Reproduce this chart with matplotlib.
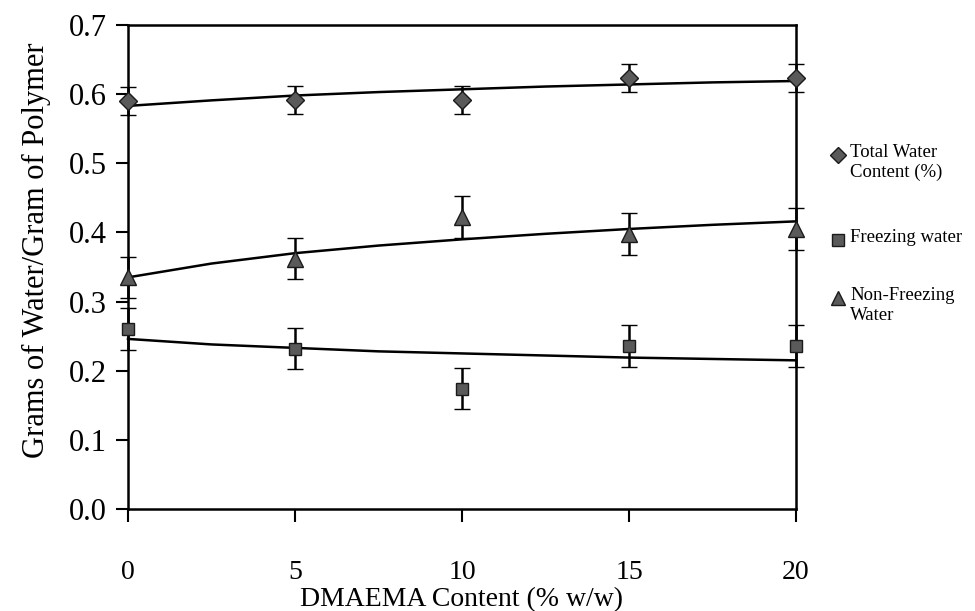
import matplotlib
matplotlib.use("Agg")
import matplotlib.pyplot as plt
from matplotlib.lines import Line2D

plt.rcParams['font.family'] = ['Liberation Serif', 'DejaVu Serif']

# ---- data ----
dmaema = [0, 5, 10, 15, 20]
total_water = [0.590, 0.592, 0.592, 0.623, 0.623]
total_err = [0.02, 0.02, 0.02, 0.02, 0.02]
nonfreezing = [0.335, 0.362, 0.422, 0.398, 0.405]
nonfreezing_err = [0.03, 0.03, 0.03, 0.03, 0.03]
freezing = [0.260, 0.232, 0.174, 0.236, 0.236]
freezing_err = [0.03, 0.03, 0.03, 0.03, 0.03]

# trend lines
trend_x = [0, 2.5, 5, 7.5, 10, 12.5, 15, 17.5, 20]
trend_total = [0.583, 0.591, 0.598, 0.603, 0.607, 0.611, 0.614, 0.617, 0.619]
trend_nonfreezing = [0.335, 0.355, 0.370, 0.381, 0.390, 0.398, 0.405, 0.411, 0.416]
trend_freezing = [0.246, 0.238, 0.233, 0.228, 0.225, 0.222, 0.219, 0.217, 0.215]

xticks = [0, 5, 10, 15, 20]
yticks = [0.0, 0.1, 0.2, 0.3, 0.4, 0.5, 0.6, 0.7]
ytick_labels = ['0.0', '0.1', '0.2', '0.3', '0.4', '0.5', '0.6', '0.7']
legend_labels = ['Total Water\nContent (%)', 'Freezing water', 'Non-Freezing\nWater']

# ---- figure ----
W, H = 975, 611
fig = plt.figure(figsize=(W / 100, H / 100), dpi=100)
L, R, T, B = 128, 796, 25, 509
ax = fig.add_axes([L / W, 1 - B / H, (R - L) / W, (B - T) / H])

mfc = '#5a5a5a'
mec = '#1a1a1a'
lw = 1.8

for xs, ys in [(trend_x, trend_total), (trend_x, trend_nonfreezing), (trend_x, trend_freezing)]:
    ax.plot(xs, ys, color='black', lw=lw, zorder=2, clip_on=False)

common = dict(ecolor='black', elinewidth=lw, capsize=6, capthick=lw, mec=mec, mfc=mfc,
              mew=1.0, zorder=3, clip_on=False)
ax.errorbar(dmaema, total_water, yerr=total_err, fmt='D', ms=9, **common)
ax.errorbar(dmaema, freezing, yerr=freezing_err, fmt='s', ms=9, **common)
ax.errorbar(dmaema, nonfreezing, yerr=nonfreezing_err, fmt='^', ms=11, **common)

ax.set_xlim(0, 20)
ax.set_ylim(0, 0.7)
ax.set_xticks(xticks)
ax.set_yticks(yticks)
ax.set_yticklabels(ytick_labels)
for s in ax.spines.values():
    s.set_linewidth(1.8)
ax.tick_params(axis='both', direction='out', length=9, width=1.5,
               top=False, right=False)
ax.tick_params(axis='x', pad=28, labelsize=20)
ax.tick_params(axis='y', pad=6, labelsize=22)
ax.set_xlabel('DMAEMA Content (% w/w)', fontsize=20)
ax.xaxis.set_label_coords(0.5, (B - 600) / (B - T))
ax.xaxis.label.set_va('center')
ax.set_ylabel('Grams of Water/Gram of Polymer', fontsize=22)
ax.yaxis.set_label_coords((36 - L) / (R - L), (B - 250) / (B - T))
ax.yaxis.label.set_va('center')

# legend: marker aligned with first line of each label
leg_markers = [('D', 8), ('s', 8), ('^', 10)]
leg_y = [155, 240, 298]
for (mk, ms), lab, yy in zip(leg_markers, legend_labels, leg_y):
    fy = 1 - yy / H
    fig.add_artist(Line2D([838 / W], [fy], ls='none', marker=mk, ms=ms,
                          mfc=mfc, mec=mec, transform=fig.transFigure))
    fig.text(850 / W, fy + 11 / H, lab, fontsize=13.5, va='top', ha='left',
             linespacing=1.2)

fig.savefig('out.png', dpi=100)
